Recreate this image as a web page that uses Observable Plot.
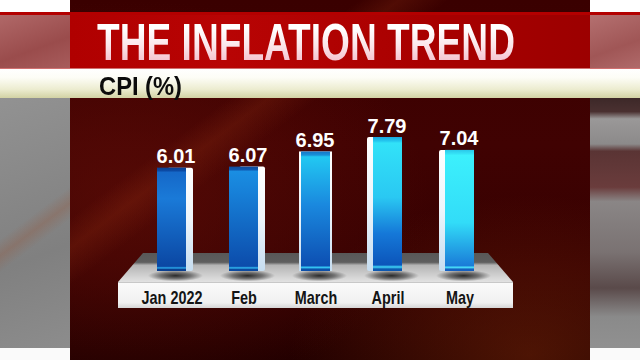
<!DOCTYPE html>
<html><head><meta charset="utf-8">
<script src="https://cdn.jsdelivr.net/npm/d3@7"></script>
<script src="https://cdn.jsdelivr.net/npm/@observablehq/plot@0.6"></script>
<style>
html,body{margin:0;padding:0;background:#fff;}
#wrap{position:relative;width:640px;height:360px;overflow:hidden;font-family:"Liberation Sans Narrow","Liberation Sans",Arial,sans-serif;}
.bg{position:absolute;}
#left{left:0;top:0;width:70px;height:360px;background:
  linear-gradient(143deg, transparent 58%, rgba(150,80,50,0.28) 62%, transparent 66%),
  linear-gradient(160deg,#9c9c9c 0%,#8a8a8a 45%,#808080 70%,#8e8e8e 100%);}
#right{left:590px;top:0;width:50px;height:360px;background:
  linear-gradient(180deg, transparent 0%, transparent 27%, #3c2828 27%, #4a3030 31%, #9a9898 33%, #8c8a8a 40%, #5a3434 42%, #6a3c3c 52%, #8a8686 56%, #7a7272 70%, #5a4a4a 80%, #8a8a8a 88%, #909090 96%);}
#center{left:70px;top:0;width:520px;height:360px;background:
  linear-gradient(143deg, transparent 29%, rgba(160,55,20,0.22) 33%, transparent 38%),
  radial-gradient(ellipse 300px 200px at 60px 200px, rgba(100,15,8,0.6), rgba(100,15,8,0) 100%),
  radial-gradient(ellipse 240px 160px at 460px 355px, rgba(140,50,10,0.4), rgba(140,50,10,0) 100%),
  linear-gradient(180deg,#3a0000 0%,#400202 40%,#350101 75%,#220000 100%);}
#topwhiteL{left:0;top:0;width:70px;height:12px;background:#fff;}
#topwhiteR{left:590px;top:0;width:50px;height:12px;background:#fff;}
#botwhiteL{left:0;top:348px;width:70px;height:12px;background:#fafafa;}
#botwhiteR{left:590px;top:348px;width:50px;height:12px;background:#fafafa;}
#redline{left:0;top:12px;width:640px;height:3px;background:#b30000;}
#bandL{left:0;top:15px;width:70px;height:53px;background:linear-gradient(160deg,#b06868,#9a4c4c 60%,#a85c5c);}
#bandR{left:590px;top:15px;width:50px;height:53px;background:linear-gradient(160deg,#b47070,#a05656 60%,#b06a6a);}
#bandC{left:70px;top:15px;width:520px;height:53px;background:linear-gradient(90deg,#b00000 0%,#b80404 30%,#a80000 70%,#9c0000 100%);}
#cream{left:0;top:68px;width:640px;height:30px;background:linear-gradient(180deg,#ffffff 0%,#fdfdf6 30%,#ececd0 70%,#d2d2a4 100%);border-top:1px solid #d07070;box-sizing:border-box;}
#title{position:absolute;left:97px;top:19px;font-size:51px;line-height:48px;font-weight:bold;white-space:nowrap;transform-origin:0 0;
  background:linear-gradient(180deg,#ffffff 20%,#fbe6ea 55%,#f2b6c6 100%);-webkit-background-clip:text;background-clip:text;color:transparent;}
#sub{position:absolute;left:99px;top:74px;font-size:25px;line-height:24px;font-weight:bold;color:#0c0c0c;white-space:nowrap;transform-origin:0 0;}
#chart{position:absolute;left:0;top:98px;}
#platform{left:0;top:0;}
</style></head><body>
<div id="wrap">
  <div class="bg" id="left"></div>
  <div class="bg" id="right"></div>
  <div class="bg" id="center"></div>
  <div class="bg" id="topwhiteL"></div>
  <div class="bg" id="topwhiteR"></div>
  <div class="bg" id="botwhiteL"></div>
  <div class="bg" id="botwhiteR"></div>
  <div class="bg" id="redline"></div>
  <div class="bg" id="bandL"></div>
  <div class="bg" id="bandR"></div>
  <div class="bg" id="bandC"></div>
  <div class="bg" id="cream"></div>
  <svg class="bg" id="platform" width="640" height="360">
    <defs>
      <linearGradient id="ptop" x1="0" y1="0" x2="0" y2="1">
        <stop offset="0" stop-color="#585858"/>
        <stop offset="0.32" stop-color="#5e5e5e"/>
        <stop offset="0.42" stop-color="#b4b4b4"/>
        <stop offset="1" stop-color="#e2e2e2"/>
      </linearGradient>
      <linearGradient id="pfront" x1="0" y1="0" x2="0" y2="1">
        <stop offset="0" stop-color="#fbfbfb"/>
        <stop offset="0.8" stop-color="#f0f0f0"/>
        <stop offset="1" stop-color="#d6d6d6"/>
      </linearGradient>
    </defs>
    <polygon points="143,253 488,253 513,282 118,282" fill="url(#ptop)"/>
    <rect x="118" y="282" width="395" height="26" fill="url(#pfront)"/>
    <line x1="118" y1="282.5" x2="513" y2="282.5" stroke="#c8c8c8"/>
  </svg>
  <div id="title">THE INFLATION TREND</div>
  <div id="sub">CPI (%)</div>
  <div id="chart"></div>
</div>
<script>
// ---- data ----
const months = ["Jan 2022", "Feb", "March", "April", "May"];
const cpi = [6.01, 6.07, 6.95, 7.79, 7.04];

// ---- styles for the bar faces (left to right) ----
const faceStops = [
  [[0,"#0a3f8f"],[0.03,"#0c4aa5"],[0.045,"#1568c8"],[0.3,"#1a7ad8"],[0.955,"#0b47a3"],[0.97,"#2aa8ea"],[0.985,"#0a3f90"]],
  [[0,"#0c4d9e"],[0.03,"#0f58b0"],[0.045,"#1a8ee2"],[0.25,"#1780d8"],[0.955,"#0c4cab"],[0.97,"#30b8f0"],[0.985,"#0c4aa0"]],
  [[0,"#1478c8"],[0.03,"#1a90d8"],[0.045,"#22c8f2"],[0.45,"#1a88de"],[0.955,"#0d4fb2"],[0.97,"#35c8f5"],[0.985,"#0d4fa8"]],
  [[0,"#1aa8e0"],[0.03,"#25c8ef"],[0.045,"#32e2f8"],[0.45,"#2ac8f2"],[0.72,"#1578d8"],[0.955,"#0c55ba"],[0.97,"#40d8f8"],[0.985,"#0d58b0"]],
  [[0,"#2bc8e8"],[0.03,"#35e0f5"],[0.045,"#3cf0fc"],[0.6,"#32dcf8"],[0.955,"#1a7cd8"],[0.97,"#48e0fa"],[0.985,"#1560c0"]]
];

const data = months.map((m, i) => ({month: m, cpi: cpi[i], i}));

const plot = Plot.plot({
  width: 640,
  height: 262,
  marginLeft: 111,
  marginRight: 121,
  marginTop: 1,
  marginBottom: 89,
  style: {background: "transparent", color: "#141414", fontFamily: "'Liberation Sans Narrow','Liberation Sans',Arial,sans-serif", fontSize: "18px", fontWeight: "bold", overflow: "visible"},
  x: {domain: months, padding: 0.6, tickSize: 0, tickPadding: 20, label: null},
  y: {domain: [0, 10], axis: null},
  color: {type: "identity"},
  marks: [
    // shadows on the platform
    Plot.barY(data, {x: "month", y1: 0.05, y2: -0.6, insetLeft: -12, insetRight: -14, dx: 3, fill: "url(#shadow)"}),
    // side faces
    Plot.barY(data, {filter: d => d.i < 2, x: "month", y: "cpi", insetLeft: 10, insetRight: -7, fill: "url(#side)", rx: 2}),
    Plot.barY(data, {filter: d => d.i === 2, x: "month", y: "cpi", insetLeft: -2, insetRight: -2, fill: "url(#side)"}),
    Plot.barY(data, {filter: d => d.i > 2, x: "month", y: "cpi", insetLeft: -6, insetRight: 10, fill: "url(#side)", rx: 2}),
    // front faces
    Plot.barY(data, {x: "month", y: "cpi", fill: d => `url(#g${d.i})`}),
    // value labels
    Plot.text(data, {filter: d => d.i < 2, x: "month", y: "cpi", text: d => d.cpi.toFixed(2), dy: -5, dx: 4, lineAnchor: "bottom", fill: "white", fontSize: 20, fontWeight: "bold", fontFamily: "'Liberation Sans',Arial,sans-serif"}),
    Plot.text(data, {filter: d => d.i >= 2, x: "month", y: "cpi", text: d => d.cpi.toFixed(2), dy: -5, dx: -1, lineAnchor: "bottom", fill: "white", fontSize: 20, fontWeight: "bold", fontFamily: "'Liberation Sans',Arial,sans-serif"})
  ]
});

document.getElementById("chart").appendChild(plot);

// gradient definitions used by the marks
const svgEl = plot.tagName.toLowerCase() === "svg" ? plot : plot.querySelector("svg");
const svg = d3.select(svgEl);
const defs = svg.insert("defs", ":first-child");
faceStops.forEach((stops, i) => {
  const g = defs.append("linearGradient").attr("id", `g${i}`).attr("x1", 0).attr("y1", 0).attr("x2", 0).attr("y2", 1);
  stops.forEach(([o, c]) => g.append("stop").attr("offset", o).attr("stop-color", c));
});
const side = defs.append("linearGradient").attr("id", "side").attr("x1", 0).attr("y1", 0).attr("x2", 0).attr("y2", 1);
[[0, "#ffffff"], [0.5, "#eef5fb"], [1, "#c6ddf0"]].forEach(([o, c]) => side.append("stop").attr("offset", o).attr("stop-color", c));
const sh = defs.append("radialGradient").attr("id", "shadow").attr("cx", "0.5").attr("cy", "0.5").attr("r", "0.5");
[[0, "rgba(0,0,0,0.8)"], [0.55, "rgba(0,0,0,0.45)"], [1, "rgba(0,0,0,0)"]].forEach(([o, c]) => sh.append("stop").attr("offset", o).attr("stop-color", c));

// condense the x-axis tick labels (narrow face)
svg.selectAll("text").each(function() {
  if (months.includes(this.textContent)) {
    const t = this.getAttribute("transform");
    this.setAttribute("transform", (t ? t + " " : "") + "scale(0.8,1)");
  }
});

// fit the condensed headline texts to their widths
function fit(id, w) {
  const el = document.getElementById(id);
  const r = el.getBoundingClientRect().width;
  el.style.transform = `scaleX(${w / r})`;
}
fit("title", 418);
fit("sub", 83);
</script>
</body></html>
